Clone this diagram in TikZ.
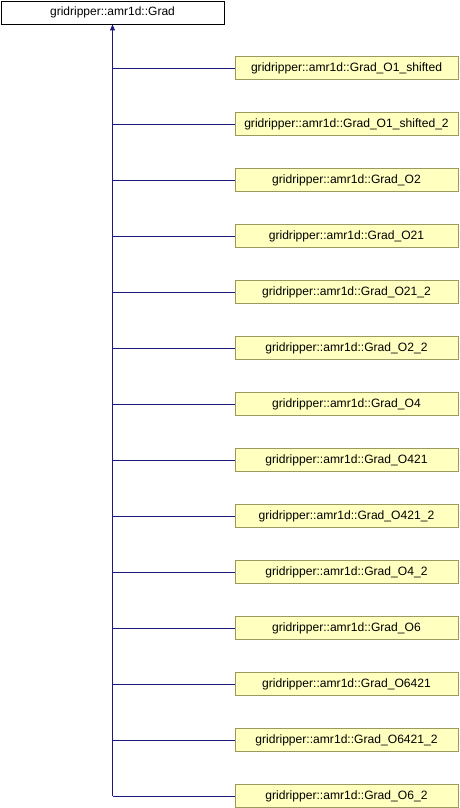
\documentclass[tikz,border=0pt]{standalone}
\usepackage{fontspec}
\setmainfont{Liberation Sans}
\usetikzlibrary{arrows.meta}
\definecolor{edgeblue}{HTML}{191980}
\definecolor{boxfill}{HTML}{FFFFC0}
\definecolor{boxline}{HTML}{9A9A60}
\begin{document}
\begin{tikzpicture}[x=1pt,y=-1pt,
  basebox/.style={draw=black,line width=0.9pt,fill=white,minimum width=223pt,minimum height=23pt,inner sep=0pt,font=\fontsize{12}{13}\selectfont},
  childbox/.style={draw=boxline,line width=0.9pt,fill=boxfill,minimum width=223pt,minimum height=23pt,inner sep=0pt,font=\fontsize{12.1}{13}\selectfont},
  edge/.style={draw=edgeblue,line width=0.9pt}]
\useasboundingbox (0,0) rectangle (460,808);
\node[basebox] (base) at (112.5,12.5) {gridripper::amr1d::Grad};
\foreach \name [count=\i from 0] in {O1\_shifted,O1\_shifted\_2,O2,O21,O21\_2,O2\_2,O4,O421,O421\_2,O4\_2,O6,O6421,O6421\_2,O6\_2}{
  \node[childbox] (c\i) at (346.5,{68+56*\i}) {gridripper::amr1d::Grad\_\name};
  \draw[edge] (c\i.west) -- (112.5,{68+56*\i});
}
\draw[edge,-{Triangle[length=6pt,width=5pt]}] (112.5,796) -- (base.south);
\end{tikzpicture}
\end{document}
